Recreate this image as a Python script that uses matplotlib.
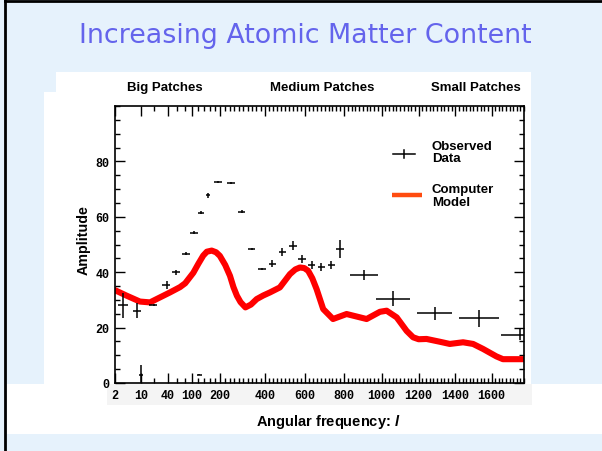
import numpy as np
import matplotlib.pyplot as plt
from matplotlib.patches import Rectangle
from matplotlib.lines import Line2D
from matplotlib.ticker import FixedLocator, MultipleLocator

# observed band powers: multipole, amplitude, half-widths
obs_l = [3.4, 8, 20, 38, 57, 82, 107, 130, 154, 193, 245, 293, 338, 385,
         436, 485, 536, 582, 632, 683, 735, 782, 907, 1062, 1288, 1530, 1760,
         10, 123]
obs_amp = [28.1, 26.1, 28.2, 35.3, 39.9, 46.7, 54.3, 61.5, 67.7, 72.7, 72.1,
           61.9, 48.3, 41.1, 43.1, 47.3, 49.6, 44.7, 42.6, 41.9, 42.5, 48.3,
           38.9, 30.5, 25.2, 23.3, 17.4, 2.9, 3.0]
obs_lerr = [1.0, 1.7, 4.2, 7, 9, 11, 13, 10, 7, 16, 17, 17, 18, 19,
            17, 17, 20, 20, 18, 18, 18, 21, 74, 90, 96, 110, 110, 1.4, 8]
obs_amperr = [4.5, 2.7, 0.5, 1.4, 1.0, 0.6, 0.5, 0.5, 0.8, 0.4, 0.4, 0.4,
              0.4, 0.4, 1.2, 1.4, 1.5, 1.5, 1.5, 1.5, 1.5, 3.3, 1.8, 2.7,
              2.4, 3.0, 2.0, 3.5, 0.2]

# model spectrum
model_l = [2, 4.2, 9.3, 16.5, 27.8, 44.3, 66.3, 80, 104, 120, 137, 150, 168,
           185, 200, 222, 242, 257, 272, 288, 310, 335, 362, 393, 425, 473,
           523, 550, 573, 595, 615, 636, 658, 692, 743, 814, 867, 920, 991,
           1027, 1081, 1135, 1170, 1200, 1243, 1315, 1370, 1443, 1498, 1553,
           1627, 1663, 1780]
model_amp = [33.5, 31.5, 29.4, 29.1, 30.9, 32.7, 34.6, 36.0, 39.8, 43.0,
             46.0, 47.4, 47.8, 47.2, 45.9, 42.6, 38.7, 34.6, 31.5, 29.2,
             27.3, 28.3, 30.3, 31.6, 32.7, 34.5, 39.3, 41.0, 41.7, 41.5,
             40.5, 37.8, 33.9, 26.7, 23.1, 24.9, 24.0, 23.1, 25.7, 26.1,
             23.7, 18.8, 16.5, 15.8, 15.9, 14.9, 14.1, 14.7, 14.1, 12.3,
             9.6, 8.6, 8.6]

tick_l = [2, 10, 40, 100, 200, 400, 600, 800, 1000, 1200, 1400, 1600]
tick_labels = [str(t) for t in tick_l]
minor_l = [20, 60, 80] + [v for v in range(120, 1781, 20) if v not in tick_l]

patch_labels = ["Big Patches", "Medium Patches", "Small Patches"]

plt.rcParams['font.family'] = ['Liberation Sans', 'DejaVu Sans']
plt.rcParams['mathtext.fontset'] = 'custom'
plt.rcParams['mathtext.it'] = 'Liberation Sans:bold:italic'

W, H = 602, 452
fig = plt.figure(figsize=(W / 100, H / 100), dpi=100)
fig.patch.set_facecolor('#e6f2fc')


def box(x0, y0, x1, y1, color):
    fig.add_artist(Rectangle((x0 / W, 1 - y1 / H), (x1 - x0) / W, (y1 - y0) / H,
                             transform=fig.transFigure, facecolor=color,
                             edgecolor='none', zorder=-5))


box(56, 73, 531, 385, 'white')
box(44, 93, 531, 385, 'white')
box(7, 385, 602, 435, 'white')
box(107, 385, 532, 406, '#f4f4f4')

# slide frame
fig.add_artist(Line2D([5 / W, 5 / W], [0, 1], color='black', lw=2,
                      transform=fig.transFigure))
fig.add_artist(Line2D([5 / W, 1], [1 - 2 / H, 1 - 2 / H], color='black', lw=2,
                      transform=fig.transFigure))

fig.text(305 / W, 1 - 43 / H, "Increasing Atomic Matter Content",
         family='DejaVu Sans', fontsize=19.4, color='#6464ec',
         ha='center', va='baseline')

for lbl, xc in zip(patch_labels, [165, 322, 476]):
    fig.text(xc / W, 1 - 88 / H, lbl, fontsize=9.5, fontweight='bold',
             ha='center', va='center')

ax = fig.add_axes([115 / W, 1 - 384 / H, 409 / W, 277 / H])

# log-like at low l, linear at high l
grid = np.linspace(0.5, 3000, 60000)


def fwd(l):
    l = np.clip(np.asarray(l, dtype=float), 1e-3, None)
    return l + 90 * np.log(l)


def inv(x):
    return np.interp(x, fwd(grid), grid)


ax.set_xscale('function', functions=(fwd, inv))
ax.set_xlim(2, 1780)
ax.set_ylim(0, 100)

ax.plot(model_l, model_amp, color='#ff0000', lw=4.4, solid_joinstyle='round',
        zorder=2)
ax.errorbar(obs_l, obs_amp, xerr=obs_lerr, yerr=obs_amperr, fmt='none',
            ecolor='black', elinewidth=1.1, capsize=0, zorder=3)

ax.set_xticks(tick_l)
ax.set_xticklabels(tick_labels)
ax.xaxis.set_minor_locator(FixedLocator(minor_l))
ax.set_yticks([0, 20, 40, 60, 80])
ax.yaxis.set_minor_locator(MultipleLocator(5))
ax.tick_params(which='both', direction='in', top=True, right=True, width=1)
ax.tick_params(which='major', length=7, pad=4)
ax.tick_params(which='minor', length=3.5)
for t in ax.get_xticklabels() + ax.get_yticklabels():
    t.set_fontfamily('Liberation Mono')
    t.set_fontweight('bold')
    t.set_fontsize(8.5)
for s in ax.spines.values():
    s.set_linewidth(1.2)

# legend
ax.plot([(393 - 115) / 409, (415 - 115) / 409], [(384 - 155) / 277] * 2,
        transform=ax.transAxes, color='black', lw=1.1)
ax.plot([(404 - 115) / 409] * 2, [(384 - 151) / 277, (384 - 159) / 277],
        transform=ax.transAxes, color='black', lw=1.1)
ax.plot([(392 - 115) / 409, (422 - 115) / 409], [(384 - 196) / 277] * 2,
        transform=ax.transAxes, color='#ff4c10', lw=3.2, solid_capstyle='butt')
ax.text((432 - 115) / 409, (384 - 153) / 277, "Observed\nData",
        transform=ax.transAxes, fontsize=9.5, fontweight='bold',
        ha='left', va='center', linespacing=1.05)
ax.text((432 - 115) / 409, (384 - 196.5) / 277, "Computer\nModel",
        transform=ax.transAxes, fontsize=9.5, fontweight='bold',
        ha='left', va='center', linespacing=1.05)

fig.text(84 / W, 1 - 240 / H, "Amplitude", rotation=90, fontsize=10.3,
         fontweight='bold', ha='center', va='center')
fig.text(328 / W, 1 - 422 / H, r"Angular frequency: $\mathit{l}$",
         fontsize=10.5, fontweight='bold', ha='center', va='center')

fig.savefig("out.png", dpi=100, facecolor=fig.get_facecolor())
